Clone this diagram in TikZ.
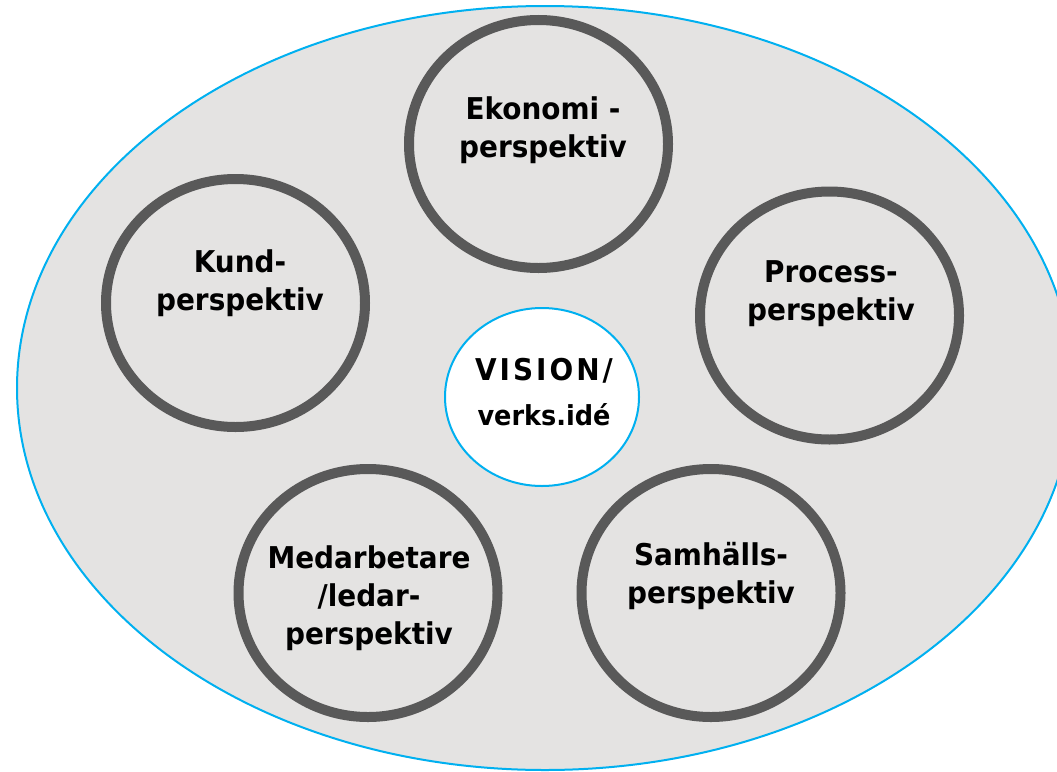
\documentclass[tikz,border=0pt]{standalone}
\usepackage{fontspec}
\setmainfont{DejaVu Sans}[FakeStretch=0.93]
\usetikzlibrary{shapes.geometric}
\definecolor{bgfill}{HTML}{E4E3E2}
\definecolor{ringgray}{HTML}{595959}
\definecolor{skyblue}{HTML}{00B0F0}
\tikzset{
  ring/.style={ellipse, draw=ringgray, line width=10pt, minimum width=259pt, minimum height=248pt, inner sep=0pt},
  lbl/.style={align=center, inner sep=0pt, font=\bfseries\fontsize{30}{38}\selectfont},
}
\begin{document}
\begin{tikzpicture}[x=1pt,y=-1pt]
\useasboundingbox (0,0) rectangle (1057,771);
\node[ellipse, draw=skyblue, line width=2pt, fill=bgfill, minimum width=1056pt, minimum height=764pt, inner sep=0pt] (outer) at (545,388) {};
\node[ring] (eko) at (538.5,144) {};
\node[ring] (kund) at (235.5,303) {};
\node[ring] (proc) at (829.5,315.5) {};
\node[ring] (med) at (368,593) {};
\node[ring] (sam) at (711,593) {};
\node[ellipse, draw=skyblue, line width=2pt, fill=white, minimum width=194pt, minimum height=178pt, inner sep=0pt] (vis) at (542,397) {};
\node[lbl] (tEko) at (543,130) {Ekonomi -\\perspektiv};
\node[lbl] (tKund) at (240,283) {Kund-\\perspektiv};
\node[lbl] (tProc) at (831,293.5) {Process-\\perspektiv};
\node[lbl] (tMed) at (369,598) {Medarbetare\\/ledar-\\perspektiv};
\node[lbl] (tSam) at (711,576) {Samhälls-\\perspektiv};
\node[lbl] (tVis) at (544,392.5) {{\addfontfeatures{LetterSpace=10}VISION/}\\[7pt]{\fontsize{27.5}{38}\selectfont verks.idé}};
\end{tikzpicture}
\end{document}
